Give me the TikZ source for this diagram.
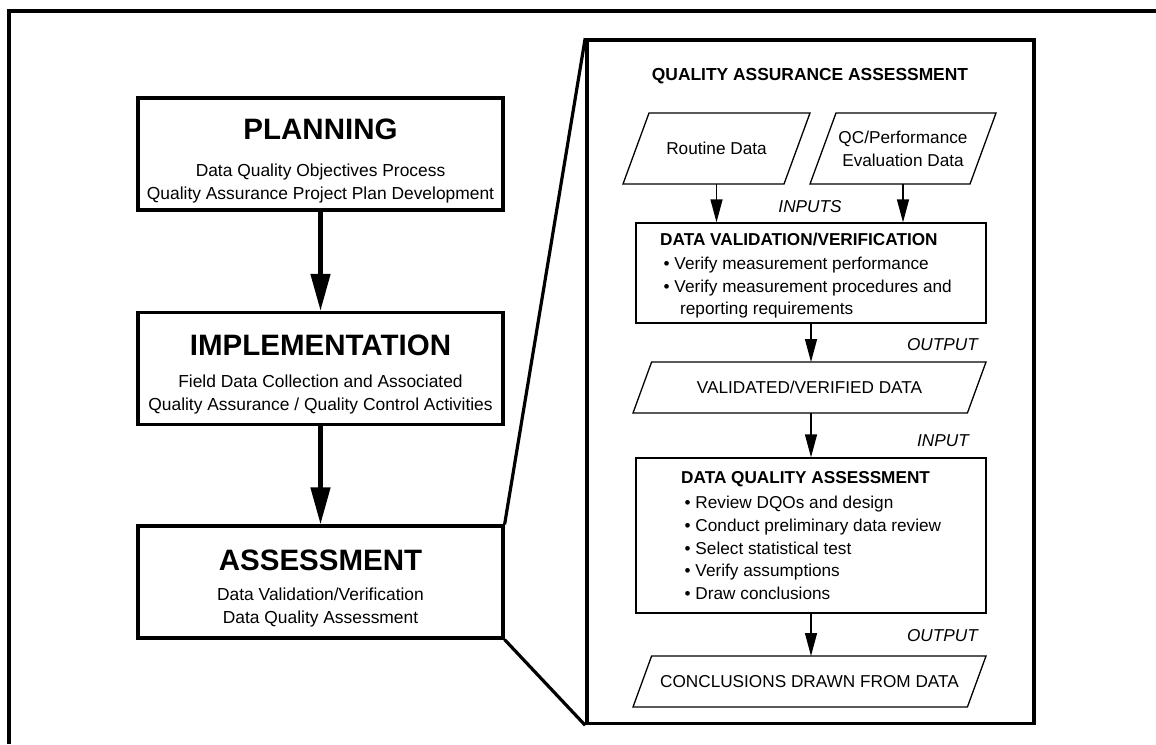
\documentclass[tikz,border=0pt]{standalone}
\usepackage{fontspec}
\setmainfont{Liberation Sans}
\usetikzlibrary{arrows.meta,calc}

\newcommand{\itm}{\hspace*{3.5pt}\textbullet\ }

\begin{document}
\begin{tikzpicture}[x=1pt, y=-1pt,
    phase/.style={draw, line width=3.2pt, minimum width=365pt, minimum height=112pt, inner sep=0pt},
    phasetitle/.style={anchor=base, inner sep=0pt, font=\fontsize{29.5}{32}\selectfont\bfseries},
    phasesub/.style={anchor=north, inner sep=0pt, align=center, font=\fontsize{17.4}{23}\selectfont},
    bigarrow/.style={line width=4.5pt, -{Triangle[width=19pt,length=37pt]}},
    zoomline/.style={line width=3.2pt},
    stepbox/.style={draw, line width=1.3pt, minimum width=350pt, inner sep=0pt},
    steptext/.style={anchor=north west, inner sep=0pt, align=left, font=\fontsize{17.2}{22.6}\selectfont},
    datashape/.style={inner sep=0pt, outer sep=0pt, align=center, font=\fontsize{17.2}{23}\selectfont},
    flow/.style={line width=1.3pt, -{Triangle[width=12pt,length=23pt]}},
    flowlabel/.style={inner sep=0pt, font=\fontsize{17.2}{20}\selectfont\itshape}]

    \useasboundingbox (0,0) rectangle (1156,744);
    \draw[line width=3.5pt] (9,744) -- (9,11) -- (1156,11);

    % phases
    \node[phase] (plan) at (320.5,154) {};
    \node[phase] (impl) at (320.5,368.5) {};
    \node[phase] (assess) at (320.5,582) {};
    \node[phasetitle] (plan-t) at (320.5,139) {PLANNING};
    \node[phasesub] (plan-s) at (320.5,163.5) {Data Quality Objectives Process\\Quality Assurance Project Plan Development};
    \node[phasetitle] (impl-t) at (320.5,355) {IMPLEMENTATION};
    \node[phasesub] (impl-s) at (320.5,374.5) {Field Data Collection and Associated\\Quality Assurance / Quality Control Activities};
    \node[phasetitle] (assess-t) at (320.5,570) {ASSESSMENT};
    \node[phasesub] (assess-s) at (320.5,587.5) {Data Validation/Verification\\Data Quality Assessment};
    \draw[bigarrow] (plan) -- (impl);
    \draw[bigarrow] (impl) -- (assess);

    % zoom on assessment
    \node[draw, line width=3.6pt, minimum width=447pt, minimum height=683.5pt, inner sep=0pt] (qa) at (810.5,381.75) {};
    \draw[zoomline] (assess.north east) -- (qa.north west);
    \draw[zoomline] (assess.south east) -- (qa.south west);
    \node[inner sep=0pt, font=\fontsize{17.4}{20}\selectfont\bfseries] (qa-t) at (810,76) {QUALITY ASSURANCE ASSESSMENT};

    \node[datashape, minimum width=187pt, minimum height=71pt] (routine) at (716.5,148.5) {Routine Data};
    \node[datashape, minimum width=186pt, minimum height=71pt] (qc) at (903,148.5) {QC/Performance\\Evaluation Data};
    \node[stepbox, minimum height=100pt] (dv) at (811,273) {};
    \node[steptext] (dv-t) at (660,232.8) {\textbf{DATA VALIDATION/VERIFICATION}\\[1.5pt]
        \itm Verify measurement performance\\
        \itm Verify measurement procedures and\\
        \hspace*{20pt}reporting requirements};
    \node[datashape, minimum width=353pt, minimum height=51pt] (valid) at (809.5,387.5) {VALIDATED/VERIFIED DATA};
    \node[stepbox, minimum height=155pt] (dqa) at (811,535.5) {};
    \node[steptext] (dqa-t) at (681,471.7) {\textbf{DATA QUALITY ASSESSMENT}\\[2.4pt]
        \itm Review DQOs and design\\
        \itm Conduct preliminary data review\\
        \itm Select statistical test\\
        \itm Verify assumptions\\
        \itm Draw conclusions};
    \node[datashape, minimum width=353pt, minimum height=51pt] (concl) at (809.5,681.5) {CONCLUSIONS DRAWN FROM DATA};

    % slanted outlines of the data shapes
    \foreach \n/\s in {routine/26, qc/26, valid/18.6, concl/18.6}
        \draw[line width=1.3pt] ($(\n.north west)+(\s,0)$) -- (\n.north east)
            -- ($(\n.south east)+(-\s,0)$) -- (\n.south west) -- cycle;

    \draw[flow] (routine.south) -- (routine.south |- dv.north);
    \draw[flow] (qc.south) -- (qc.south |- dv.north);
    \draw[flow] (dv.south) -- (dv.south |- valid.north);
    \draw[flow] (dqa.north |- valid.south) -- (dqa.north);
    \draw[flow] (dqa.south) -- (dqa.south |- concl.north);

    \node[flowlabel] (in-l) at (810,207) {INPUTS};
    \node[flowlabel, anchor=east] (out-l) at (978,345) {OUTPUT};
    \node[flowlabel, anchor=east] (in2-l) at (969,441) {INPUT};
    \node[flowlabel, anchor=east] (out2-l) at (978,636) {OUTPUT};
\end{tikzpicture}
\end{document}
